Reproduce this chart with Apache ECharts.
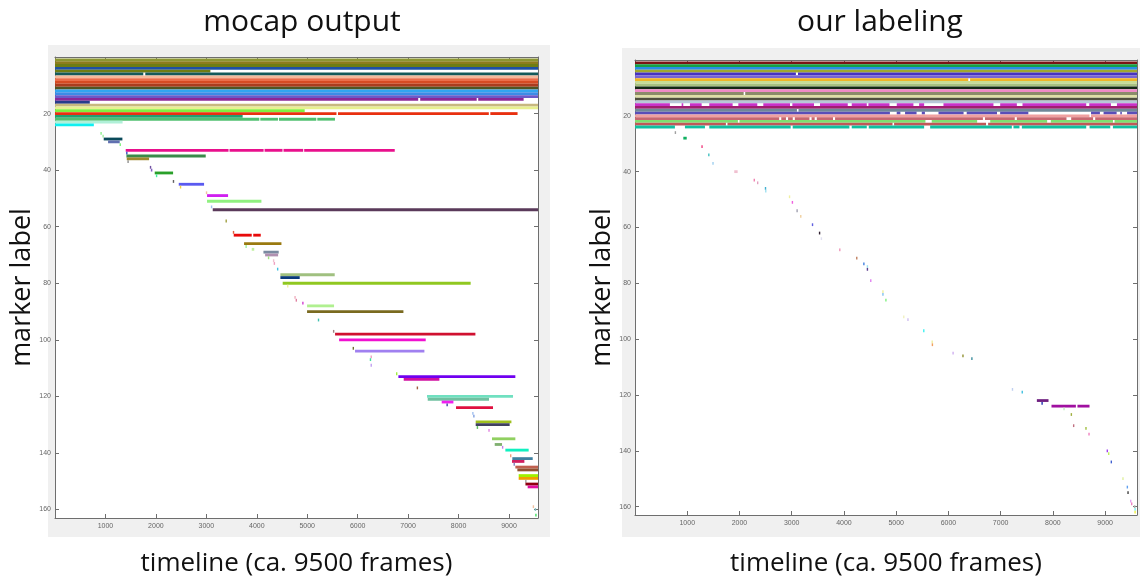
<!DOCTYPE html>
<html><head><meta charset="utf-8">
<script src="https://cdn.jsdelivr.net/npm/echarts@6/dist/echarts.min.js"></script>
<style>html,body{margin:0;padding:0;background:#fff}#c{width:1140px;height:577px}</style>
</head><body><div id="c"></div><script>
// ---------- axis extents ----------
const leftFrameMax = 9575;
const rightFrameMax = 9610;
const labelMax = 163;
const frameTickStep = 1000;
const labelTickStep = 20;
const panelTitles = ['mocap output', 'our labeling'];
const xAxisTitle = 'timeline (ca. 9500 frames)';
const yAxisTitle = 'marker label';

// ---------- LEFT: mocap output  [markerLabel, startFrame, endFrame] ----------
const leftTopBlock = [
  [1,0,9575],[2,0,9575],[3,0,9575],[4,0,9575],
  [5,0,3080],
  [6,0,1750],[6,1790,9575],
  [7,0,9575],[8,0,9575],[9,0,9575],[10,0,9575],[11,0,9575],[12,0,9575],[13,0,9575],
  [14,0,9575],
  [15,0,7200],[15,7240,8360],[15,8390,9290],
  [16,0,690],
  [17,0,9575],[18,0,9575],
  [19,0,4950],
  [20,0,5580],[20,5610,8600],[20,8630,9170],
  [21,0,3720],
  [22,0,4050],[22,4070,4420],[22,4440,5180],[22,5200,5550],
  [23,0,1340],
  [24,0,770]
];
const leftDiagonal = [
  [27,900,915],[28,940,965],[29,966,1336],[30,1052,1283],[31,1280,1295],
  [33,1402,3440],[33,3460,4135],[33,4155,4510],[33,4530,4920],[33,4940,6735],
  [34,1410,1430],[35,1416,2988],[36,1422,1865],[37,1435,1450],[39,1880,1895],[40,1900,1930],
  [41,1977,2341],[42,2000,2015],[44,2335,2350],[45,2453,2955],[46,2475,2490],[48,2990,3005],
  [49,3014,3431],[51,3014,4092],[53,3090,3105],[54,3127,9575],[58,3380,3395],[62,3525,3540],
  [63,3543,3900],[63,3930,4079],[66,3748,4489],[67,3775,3790],[68,3900,3950],[69,4132,4435],[70,4165,4423],
  [71,4220,4235],[72,4320,4335],[73,4335,4350],[75,4400,4420],[77,4468,5545],[78,4468,4851],
  [80,4514,8240],[81,4600,4615],[85,4745,4760],[86,4770,4785],[87,4900,4915],[88,4997,5532],
  [90,4997,6907],[93,5210,5225],[97,5510,5525],[98,5552,8334],[100,5632,7349],[103,5900,5920],
  [104,5948,7323],[106,6255,6270],[107,6240,6255],[109,6255,6265],[112,6760,6780],[113,6807,9126],
  [114,6913,7620],[117,7170,7185],[120,7375,9080],[121,7389,8604],[122,7666,7898],[123,7760,7775],
  [124,7950,8683],[126,8270,8285],[127,8290,8305],[129,8340,9048],[130,8340,9013],[131,8360,8375],
  [132,8590,8605],[135,8663,9126],[137,8717,8862],[138,8860,8875],[139,8928,9390],[141,9020,9035],
  [142,9066,9470],[143,9060,9305],[144,9090,9105],[145,9126,9575],[146,9166,9575],[148,9192,9575],
  [149,9192,9575],[150,9320,9335],[151,9326,9575],[152,9370,9575],[159,9470,9485],[160,9510,9525],
  [162,9520,9535]
];
// marker colour per label (style)
const leftColors = {
  1:'#8c9632',2:'#8c7d1e',3:'#6e7d14',4:'#1e50a5',5:'#6e7d14',6:'#145a5a',7:'#f5b99b',8:'#eb6e4b',
  9:'#d74b23',10:'#aa3c1e',11:'#505523',12:'#32a5f0',13:'#3c8ce6',14:'#6a5ac8',15:'#8c2896',16:'#283c8c',
  17:'#c8b880',18:'#e8f090',19:'#80f040',20:'#e83010',21:'#20a070',22:'#50c070',23:'#b0f0d8',24:'#10f0f0',
  27:'#90f090',28:'#a0f0a0',29:'#0a4a5a',30:'#6070b0',31:'#80f080',33:'#e8108c',34:'#3050c0',35:'#3a8a4a',
  36:'#a08a30',37:'#909090',39:'#7050a0',40:'#8060c0',41:'#2aa02a',42:'#40f0a0',44:'#606060',45:'#5a5af0',
  46:'#f0d040',48:'#f0c0a0',49:'#d020f0',51:'#90f080',53:'#a0c0f0',54:'#5a3a5a',58:'#a0a040',62:'#e06040',
  63:'#e80a0a',66:'#9a7a10',67:'#a0f0a0',68:'#c0f0a0',69:'#7a8aa0',70:'#b090b0',71:'#a0e080',72:'#f0c0d0',
  73:'#f0a0c0',75:'#40c0e0',77:'#a0c080',78:'#0a3a7a',80:'#90c820',81:'#f0f0a0',85:'#f0b0c0',86:'#e080a0',
  87:'#d040d0',88:'#b0f090',90:'#7a6a20',93:'#40c0b0',97:'#a08080',98:'#d01030',100:'#f010d0',103:'#707030',
  104:'#a080f0',106:'#f0a0c0',107:'#40e0a0',109:'#c0a0f0',112:'#a0f040',113:'#7000f0',114:'#d010a0',
  117:'#a06040',120:'#70e0c0',121:'#70c0a0',122:'#f020f0',123:'#4040a0',124:'#e01040',126:'#a0c0f0',
  127:'#80a0e0',129:'#a0c020',130:'#404060',131:'#60c060',132:'#e080e0',135:'#90d060',137:'#80b070',
  138:'#c080f0',139:'#10f0c0',141:'#f0a080',142:'#4080a0',143:'#d02060',144:'#8080c0',145:'#c06050',
  146:'#905030',148:'#a0f000',149:'#f0a000',150:'#a0a0a0',151:'#900010',152:'#e010a0',159:'#f0c0a0',
  160:'#80c0c0',162:'#40e060'
};

// ---------- RIGHT: our labeling  [markerLabel, startFrame, endFrame] ----------
const rightTopBlock = [
  [1,0,9610],[2,0,9610],[3,0,9610],[4,0,9610],
  [5,0,3080],[5,3120,9610],
  [6,0,9610],
  [7,0,6380],[7,6415,9610],
  [8,0,9610],[9,0,9610],[10,0,9610],[11,0,9610],
  [12,0,2080],[12,2110,9610],
  [13,0,9610],[14,0,9610],[15,0,9610],
  [16,0,668],[16,893,924],[16,1052,1276],[16,1422,1869],[16,1978,2341],[16,2456,2967],[16,3012,3427],
  [16,3542,4073],[16,4149,4437],[16,4468,4872],[16,5011,5330],[16,5439,5535],[16,5905,6862],
  [16,6991,7310],[16,7418,8638],[16,8696,9111],[16,9226,9610],
  [17,0,9610],
  [18,0,3100],[18,3130,9610],
  [19,0,4880],[19,5010,5080],[19,5170,5390],[19,5490,5550],[19,5810,6290],[19,6350,6930],
  [19,6990,7530],[19,8730,8900],[19,8970,9220],[19,9290,9320],[19,9420,9610],
  [20,0,8700],[20,8730,9610],
  [21,0,2760],[21,2800,2890],[21,2930,3020],[21,3060,3340],[21,3380,3440],[21,3480,3790],
  [21,3830,6660],[21,6700,7270],[21,7310,8260],[21,8350,8770],[21,8810,9610],
  [22,0,1970],[22,2000,5560],[22,5680,6550],[22,6800,7890],[22,7960,9150],[22,9180,9610],
  [23,0,1740],[23,1770,4930],[23,4960,6720],[23,6760,9610],
  [24,0,764],[24,956,1339],[24,1422,2980],[24,3019,4104],[24,4149,4437],[24,4475,5535],
  [24,5650,7214],[24,7245,7360],[24,7406,8638],[24,8702,9098],[24,9149,9610]
];
const rightDiagonal = [
  [26,760,770],[28,925,990],[31,1270,1290],[34,1400,1410],[37,1480,1495],[40,1900,1965],
  [43,2270,2280],[44,2335,2345],[46,2485,2495],[47,2490,2500],[49,2945,2955],[51,3000,3015],
  [54,3090,3105],[56,3160,3175],[59,3385,3395],[62,3520,3535],[64,3555,3565],[68,3905,3935],
  [71,4232,4242],[73,4368,4376],[74,4436,4446],[75,4436,4452],[79,4500,4512],[83,4733,4741],
  [84,4733,4741],[86,4790,4810],[92,5132,5142],[93,5212,5230],[97,5515,5527],[101,5676,5684],
  [102,5680,5690],[105,6076,6092],[106,6265,6275],[107,6436,6448],[118,7213,7228],[119,7400,7410],
  [122,7693,7916],[123,7780,7798],[124,7973,8440],[124,8470,8701],[125,8200,8210],[127,8340,8352],
  [131,8384,8395],[132,8620,8632],[134,8678,8690],[140,9028,9040],[141,9055,9066],[144,9105,9118],
  [150,9328,9340],[153,9412,9422],[155,9425,9435],[158,9476,9486],[159,9495,9505],[160,9550,9580],
  [161,9560,9570],[162,9560,9570]
];
const rightColors = {
  1:'#7a1414',2:'#14a046',3:'#288ce6',4:'#a0a82e',5:'#4632c0',6:'#7864d2',7:'#f0b428',8:'#c8dc96',
  9:'#a8c080',10:'#142814',11:'#f08cc8',12:'#8c8c6a',13:'#e0e0a8',14:'#505040',15:'#b8c8d8',16:'#c832c8',
  17:'#a01e70',18:'#708898',19:'#5a4eb8',20:'#f0a0a0',21:'#c86870',22:'#80e070',23:'#c05858',24:'#10c0a0',
  26:'#a0a0a0',28:'#10b060',31:'#f04080',34:'#40c0c0',37:'#a0d0f0',40:'#f0c0d0',43:'#f080b0',44:'#e0a0c0',
  46:'#40b0d0',47:'#a0e0f0',49:'#f0f0a0',51:'#f060e0',54:'#a0a0b0',56:'#f0d0a0',59:'#6060e0',62:'#302030',
  64:'#e0e0f0',68:'#f0a0c0',71:'#c08060',73:'#4080e0',74:'#a0e0f0',75:'#604090',79:'#e080f0',83:'#f0f0a0',
  84:'#80c0f0',86:'#80f080',92:'#f0f0c0',93:'#d0c0f0',97:'#40f0f0',101:'#f0f0a0',102:'#f0a060',
  105:'#d0b0f0',106:'#909030',107:'#4090a0',118:'#c0d0f0',119:'#40c0e0',122:'#702080',123:'#2030b0',
  124:'#a010a0',125:'#c0f0c0',127:'#a0b040',131:'#c07080',132:'#a0c040',134:'#f080c0',140:'#a040f0',
  141:'#c0f060',144:'#4060d0',150:'#e0f0a0',153:'#60a0f0',155:'#404040',158:'#e0a0f0',159:'#f080c0',
  160:'#b0b0b0',161:'#80f0f0',162:'#f0f040'
};

// ---------- chart ----------
const chart = echarts.init(document.getElementById('c'), null, {renderer:'canvas'});
const axisColor = '#6e6e6e';
const labelFont = 'Liberation Sans';
const bigFont = '"Open Sans", "Noto Sans", sans-serif';

function renderer(colors){
  return function(params, api){
    const row = api.value(0), s = api.value(1), e = api.value(2);
    const p0 = api.coord([s, row]);
    const p1 = api.coord([e, row]);
    const h = Math.abs(api.size([0, 1])[1]);
    const w = Math.max(p1[0] - p0[0], 1.4);
    const cs = params.coordSys;
    const rect = echarts.graphic.clipRectByRect(
      {x: p0[0], y: p0[1] - h / 2, width: w, height: h},
      {x: cs.x, y: cs.y, width: cs.width, height: cs.height});
    if (!rect) return;
    return {type:'rect', shape: rect, style: {fill: colors[row]}};
  };
}
const plainNumber = v => String(v);

function xAxes(gi, max, gap){
  const base = {gridIndex: gi, type:'value', min:0, max:max, interval:frameTickStep,
    axisLine:{onZero:false, lineStyle:{color:axisColor, width:1}},
    axisTick:{inside:true, length:4, lineStyle:{color:axisColor}},
    splitLine:{show:false}};
  return [
    Object.assign({}, base, {position:'bottom',
      axisLabel:{fontSize:7, color:'#666', fontFamily:labelFont, margin:5, showMinLabel:false, showMaxLabel:false, formatter:plainNumber},
      name:xAxisTitle, nameLocation:'middle', nameGap:gap,
      nameTextStyle:{fontSize:26, color:'#111', fontFamily:bigFont}}),
    Object.assign({}, base, {position:'top', axisLabel:{show:false}})
  ];
}
function yAxes(gi){
  const base = {gridIndex: gi, type:'value', min:0, max:labelMax, interval:labelTickStep, inverse:true,
    axisLine:{onZero:false, lineStyle:{color:axisColor, width:1}},
    axisTick:{inside:true, length:4, lineStyle:{color:axisColor}},
    splitLine:{show:false}};
  return [
    Object.assign({}, base, {position:'left',
      axisLabel:{fontSize:7, color:'#666', fontFamily:labelFont, margin:4, showMinLabel:false, showMaxLabel:false, formatter:plainNumber},
      name:yAxisTitle, nameLocation:'middle', nameGap:18, nameRotate:90,
      nameTextStyle:{fontSize:27, color:'#111', fontFamily:bigFont}}),
    Object.assign({}, base, {position:'right', axisLabel:{show:false}})
  ];
}

const option = {
  animation:false,
  backgroundColor:'#ffffff',
  graphic:{elements:[
    {type:'rect', z:-10, shape:{x:48, y:45, width:502, height:492}, style:{fill:'#f0f0f0'}},
    {type:'rect', z:-10, shape:{x:622, y:48, width:518, height:489}, style:{fill:'#f0f0f0'}},
    {type:'text', z:5, x:302, y:22, style:{text:panelTitles[0], font:'30px ' + bigFont, fill:'#111', align:'center', verticalAlign:'middle'}},
    {type:'text', z:5, x:880, y:22, style:{text:panelTitles[1], font:'30px ' + bigFont, fill:'#111', align:'center', verticalAlign:'middle'}}
  ]},
  grid:[
    {left:55, top:57, width:483, height:461, show:true, backgroundColor:'#ffffff', borderWidth:0,
      containLabel:false, outerBoundsMode:'none'},
    {left:635, top:60, width:502, height:455, show:true, backgroundColor:'#ffffff', borderWidth:0,
      containLabel:false, outerBoundsMode:'none'}
  ],
  xAxis: xAxes(0, leftFrameMax, 33).concat(xAxes(1, rightFrameMax, 36)),
  yAxis: yAxes(0).concat(yAxes(1)),
  series:[
    {type:'custom', xAxisIndex:0, yAxisIndex:0, renderItem:renderer(leftColors),
      encode:{x:[1,2], y:0}, data:leftTopBlock.concat(leftDiagonal)},
    {type:'custom', xAxisIndex:2, yAxisIndex:2, renderItem:renderer(rightColors),
      encode:{x:[1,2], y:0}, data:rightTopBlock.concat(rightDiagonal)}
  ]
};
chart.setOption(option);
</script></body></html>
